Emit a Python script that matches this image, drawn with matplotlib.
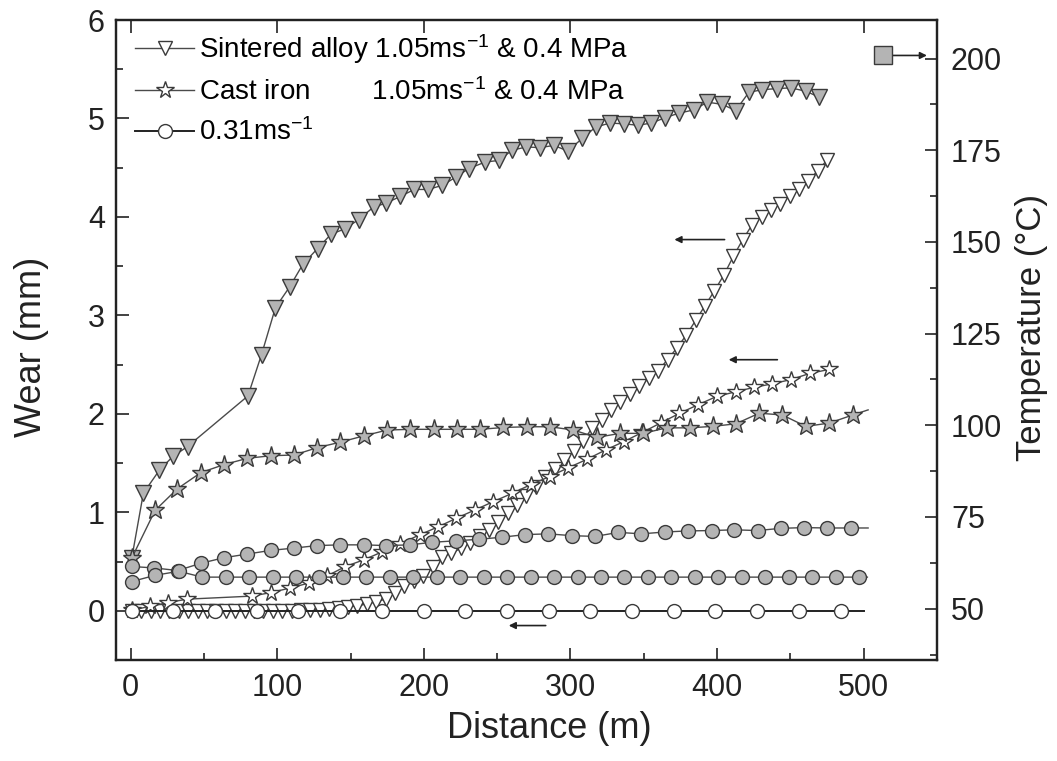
import numpy as np
import matplotlib.pyplot as plt
from matplotlib.ticker import MultipleLocator

plt.rcParams['font.family'] = ['Liberation Sans', 'DejaVu Sans']
plt.rcParams['mathtext.default'] = 'regular'

# ---- wear data (left axis) ----
# sintered alloy, 1.05 m/s & 0.4 MPa
sint_wear_d = [0.8, 7.2, 13.7, 20.1, 26.5, 32.9, 39.3, 45.7, 52.1, 58.5,
               64.9, 71.3, 77.7, 84.2, 90.6, 97.0, 103.4, 109.8, 116.2, 122.6,
               129.0, 135.4, 141.8, 148.3, 154.7, 161.1, 167.5, 173.9, 180.3, 186.7,
               193.1, 199.5, 205.9, 212.4, 218.8, 225.2, 231.6, 238.0, 244.4, 250.8,
               257.2, 263.6, 270.0, 276.5, 282.9, 289.3, 295.7, 302.1, 308.5, 314.9,
               321.3, 327.7, 334.1, 340.6, 347.0, 353.4, 359.8, 366.2, 372.6, 379.0,
               385.4, 391.8, 398.2, 404.6, 411.1, 417.5, 423.9, 430.3, 436.7, 443.1,
               449.5, 455.9, 462.3, 468.7, 475.1]
sint_wear = [0.0, 0.0, 0.0, 0.0, 0.0, 0.0, 0.0, 0.0, 0.0, 0.0,
             0.0, 0.0, 0.0, 0.0, 0.0, 0.0, 0.0, 0.0, 0.005, 0.01,
             0.01, 0.02, 0.03, 0.04, 0.05, 0.07, 0.09, 0.12, 0.18, 0.25,
             0.30, 0.35, 0.44, 0.55, 0.585, 0.635, 0.69, 0.755, 0.825, 0.905,
             0.99, 1.075, 1.17, 1.26, 1.36, 1.445, 1.53, 1.62, 1.72, 1.86,
             1.94, 2.04, 2.12, 2.20, 2.28, 2.36, 2.44, 2.55, 2.67, 2.80,
             2.95, 3.10, 3.25, 3.41, 3.60, 3.77, 3.92, 4.00, 4.07, 4.13,
             4.21, 4.28, 4.37, 4.47, 4.58]

# cast iron, 1.05 m/s & 0.4 MPa
cast_wear_d = [0.8, 13.0, 25.8, 38.4, 82.7, 95.7, 108.4, 121.4, 134.1, 146.4,
               158.9, 171.5, 184.0, 197.1, 209.6, 222.2, 234.8, 247.4, 260.4, 273.0,
               285.7, 298.6, 311.3, 323.9, 336.2, 348.9, 361.4, 374.3, 387.2, 399.7,
               412.6, 425.1, 437.7, 450.2, 463.3, 476.3]
cast_wear = [0.005, 0.045, 0.084, 0.118, 0.149, 0.185, 0.230, 0.281, 0.355, 0.449,
             0.517, 0.598, 0.682, 0.771, 0.852, 0.940, 1.024, 1.109, 1.194, 1.282,
             1.363, 1.453, 1.539, 1.633, 1.717, 1.811, 1.907, 2.005, 2.094, 2.177,
             2.224, 2.269, 2.305, 2.348, 2.411, 2.451]

# 0.31 m/s
slow_wear_d = [0.8, 29.2, 57.7, 86.1, 114.5, 143.0, 171.4, 199.9, 228.3, 256.8,
               285.2, 313.6, 342.1, 370.5, 398.9, 427.4, 455.8, 484.3, 500.0]
slow_wear = [0.0, 0.0, 0.0, 0.0, 0.0, 0.0, 0.0, 0.0, 0.0, 0.0,
             0.0, 0.0, 0.0, 0.0, 0.0, 0.0, 0.0, 0.0, 0.0]

# ---- temperature data (right axis) ----
sint_temp_d = [0.8, 8.7, 19.7, 28.8, 38.8, 80.0, 89.3, 98.8, 108.4, 117.5,
               127.5, 136.7, 146.4, 155.5, 165.7, 174.4, 183.9, 193.5, 202.9, 212.4,
               222.0, 230.6, 242.0, 251.1, 260.2, 270.0, 279.0, 288.6, 298.2, 308.0,
               317.1, 326.8, 336.4, 345.9, 355.1, 364.8, 373.9, 384.2, 393.3, 403.6,
               412.6, 421.7, 430.9, 440.6, 450.2, 460.4, 469.5]
sint_temp = [63.8, 81.5, 87.8, 91.5, 94.2, 108.0, 119.3, 132.1, 137.7, 143.9,
             148.2, 152.1, 153.6, 156.1, 159.5, 160.6, 162.4, 164.3, 164.3, 165.4,
             167.7, 170.0, 171.8, 172.2, 175.0, 175.9, 175.7, 176.3, 174.8, 178.2,
             181.3, 182.4, 182.2, 181.8, 182.4, 183.9, 185.1, 186.0, 188.1, 187.5,
             185.8, 190.8, 191.5, 191.8, 192.0, 191.1, 189.5]

cast_temp_d = [0.8, 16.7, 31.9, 47.9, 63.8, 79.7, 95.7, 111.6, 127.3, 143.0,
               158.9, 174.9, 190.8, 206.7, 222.7, 238.6, 254.3, 270.2, 286.1, 302.0,
               318.0, 333.9, 349.6, 365.5, 381.4, 396.9, 412.8, 428.7, 444.6, 460.5,
               476.5, 492.4, 503.0]
cast_temp = [63.8, 76.8, 82.7, 87.1, 89.3, 91.0, 91.7, 91.9, 93.9, 95.4,
             97.1, 98.7, 98.9, 98.9, 98.9, 98.9, 99.4, 99.6, 99.6, 98.7,
             96.7, 97.8, 97.8, 99.3, 99.3, 99.7, 100.4, 103.3, 102.8, 99.7,
             100.6, 102.8, 104.2]

slow_temp1_d = [0.8, 16.2, 32.1, 48.1, 63.8, 79.7, 95.7, 111.1, 127.0, 142.9,
                158.9, 174.4, 190.3, 205.8, 221.6, 237.3, 253.6, 269.3, 284.9, 301.1,
                316.8, 332.7, 348.4, 364.3, 380.3, 396.2, 411.7, 427.6, 443.3, 459.2,
                475.1, 491.1, 503.0]
slow_temp1 = [61.5, 61.1, 60.4, 62.4, 63.9, 64.9, 65.9, 66.5, 67.2, 67.4,
              67.4, 67.2, 67.4, 68.1, 68.5, 68.9, 69.5, 70.2, 70.4, 69.9,
              69.7, 70.8, 70.4, 70.9, 71.2, 71.3, 71.5, 71.3, 71.9, 72.1,
              72.0, 72.0, 72.0]

slow_temp2_d = [0.8, 16.8, 32.8, 48.8, 64.8, 80.8, 96.8, 112.8, 128.8, 144.8,
                160.8, 176.8, 192.8, 208.8, 224.8, 240.8, 256.8, 272.8, 288.8, 304.8,
                320.8, 336.8, 352.8, 368.8, 384.8, 400.8, 416.8, 432.8, 448.8, 464.8,
                480.8, 496.8, 502.5]
slow_temp2 = [57.4, 59.1, 60.2, 58.6, 58.6, 58.6, 58.6, 58.6, 58.6, 58.6,
              58.6, 58.6, 58.6, 58.6, 58.6, 58.6, 58.6, 58.6, 58.6, 58.6,
              58.6, 58.6, 58.6, 58.6, 58.6, 58.6, 58.6, 58.6, 58.6, 58.6,
              58.6, 58.6, 58.6]

legend_labels = ['Sintered alloy 1.05ms$^{-1}$ & 0.4 MPa',
                 'Cast iron        1.05ms$^{-1}$ & 0.4 MPa',
                 '0.31ms$^{-1}$']

gray = '#b4b4b4'
edge = '#3a3a3a'
lcol = '#4a4a4a'
txt = '#222222'

fig = plt.figure(figsize=(10.57, 7.61), dpi=100)
ax = fig.add_axes([0.1097, 0.1327, 0.7768, 0.841])
ax2 = ax.twinx()

# wear curves, open symbols
h1, = ax.plot(sint_wear_d, sint_wear, '-', color=lcol, lw=1.0, marker='v', ms=10,
              mfc='white', mec=edge, mew=1.0, zorder=3)
h2, = ax.plot(cast_wear_d, cast_wear, '-', color=lcol, lw=1.0, marker='*', ms=13,
              mfc='white', mec=edge, mew=1.0, zorder=3)
h3, = ax.plot(slow_wear_d, slow_wear, '-', color=txt, lw=1.4, marker='o', ms=10,
              mfc='white', mec=edge, mew=1.0, markevery=slice(0, -1), zorder=3)

# temperature curves, grey symbols
ax2.plot(sint_temp_d, sint_temp, '-', color=lcol, lw=1.0, marker='v', ms=11.5,
         mfc=gray, mec=edge, mew=1.0)
ax2.plot(cast_temp_d, cast_temp, '-', color=lcol, lw=1.0, marker='*', ms=14,
         mfc=gray, mec=edge, mew=1.0, markevery=slice(0, -1))
ax2.plot(slow_temp1_d, slow_temp1, '-', color=lcol, lw=1.0, marker='o', ms=10,
         mfc=gray, mec=edge, mew=1.0, markevery=slice(0, -1))
ax2.plot(slow_temp2_d, slow_temp2, '-', color=lcol, lw=1.0, marker='o', ms=10,
         mfc=gray, mec=edge, mew=1.0, markevery=slice(0, -1))

ax.set_xlim(-10, 550)
ax.set_ylim(-0.5, 6)
ax2.set_ylim(36, 210.5)

ax.xaxis.set_major_locator(MultipleLocator(100))
ax.xaxis.set_minor_locator(MultipleLocator(50))
ax.yaxis.set_major_locator(MultipleLocator(1))
ax.yaxis.set_minor_locator(MultipleLocator(0.5))
ax2.yaxis.set_major_locator(MultipleLocator(25))
ax2.yaxis.set_minor_locator(MultipleLocator(12.5))
ax.set_xticks([0, 100, 200, 300, 400, 500])

ax.tick_params(which='both', direction='in', top=True, right=False,
               labelsize=22, colors=txt, width=1.2)
ax.tick_params(which='major', length=9)
ax.tick_params(which='minor', length=5, top=False)
ax.tick_params(axis='x', pad=9)
ax.tick_params(axis='y', pad=8)
ax2.tick_params(which='both', direction='in', labelsize=22, colors=txt,
                width=1.2, pad=10)
ax2.tick_params(which='major', length=9)
ax2.tick_params(which='minor', length=5)

for a in (ax, ax2):
    for s in a.spines.values():
        s.set_linewidth(1.6)
        s.set_color(txt)

ax.set_xlabel('Distance (m)', fontsize=26, color=txt)
ax.set_ylabel('Wear (mm)', fontsize=26, color=txt)
ax2.set_ylabel('Temperature (°C)', fontsize=25, color=txt)
ax.xaxis.set_label_coords(0.528, -0.08)
ax.yaxis.set_label_coords(-0.082, 0.49)
ax2.yaxis.set_label_coords(1.095, 0.52)

leg = ax.legend([h1, h2, h3], legend_labels, loc='upper left',
                bbox_to_anchor=(0.017, 0.99), frameon=False, fontsize=20,
                handlelength=2.1, handletextpad=0.2, labelspacing=0.45,
                borderpad=0.2, borderaxespad=0)

# direction arrows
arrow = dict(arrowstyle='-|>', color=txt, lw=1.2, mutation_scale=10)
ax.annotate('', xy=(369, 3.77), xytext=(407, 3.77), arrowprops=arrow)
ax.annotate('', xy=(406, 2.55), xytext=(443, 2.55), arrowprops=arrow)
ax.annotate('', xy=(256, -0.15), xytext=(285, -0.15), arrowprops=arrow)
ax.plot([513], [5.64], 's', ms=13, mfc=gray, mec=edge, mew=1.0, zorder=4)
ax.annotate('', xy=(545, 5.64), xytext=(513, 5.64), arrowprops=arrow)

fig.savefig('out.png', dpi=100)
